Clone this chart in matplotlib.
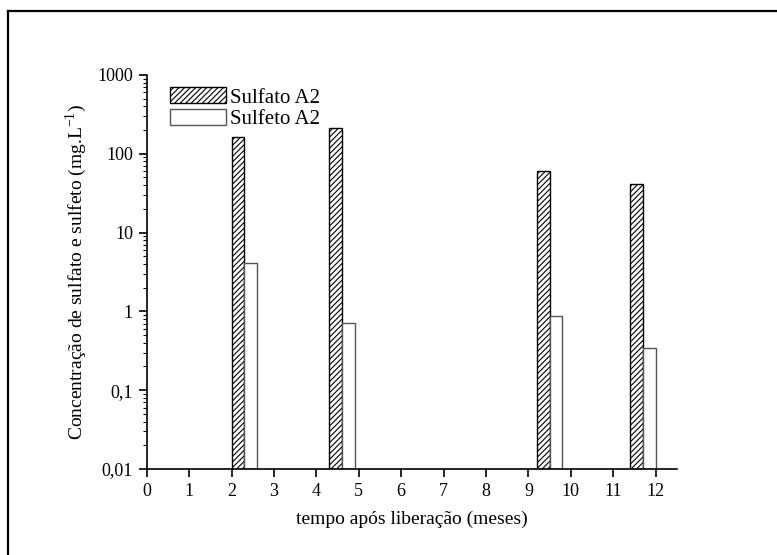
import matplotlib.pyplot as plt
from matplotlib.lines import Line2D
from matplotlib.ticker import FixedLocator, LogLocator, NullFormatter

# dados
tempo = [2.0, 4.3, 9.2, 11.4]              # meses
sulfato = [162, 212, 61, 41]               # mg/L
sulfeto = [4.1, 0.7, 0.86, 0.33]           # mg/L
yticks = [0.01, 0.1, 1, 10, 100, 1000]
ylabels = ["0,01", "0,1", "1", "10", "100", "1000"]

plt.rcParams['font.family'] = ['Liberation Serif', 'DejaVu Serif']
plt.rcParams['hatch.linewidth'] = 0.8
plt.rcParams['mathtext.fontset'] = 'custom'
plt.rcParams['mathtext.rm'] = 'Liberation Serif'

fig = plt.figure(figsize=(7.77, 5.55), dpi=100)
ax = fig.add_axes([0.189, 0.155, 0.682, 0.71])

larg = 0.3
ax.bar(tempo, sulfato, width=larg, align='edge', bottom=0.01, color='white',
       edgecolor='black', hatch='//////', linewidth=1.0, label='Sulfato A2')
ax.bar([t + larg for t in tempo], sulfeto, width=larg, align='edge', bottom=0.01,
       color='white', edgecolor='#555555', linewidth=1.0, label='Sulfeto A2')

ax.set_yscale('log')
ax.set_ylim(0.01, 1000)
ax.set_xlim(0, 12.5)
ax.yaxis.set_major_locator(FixedLocator(yticks))
ax.set_yticklabels(ylabels)
ax.yaxis.set_minor_locator(LogLocator(base=10, subs=range(2, 10)))
ax.yaxis.set_minor_formatter(NullFormatter())
ax.set_xticks(range(0, 13))

ax.spines['top'].set_visible(False)
ax.spines['right'].set_visible(False)
ax.spines['left'].set_linewidth(1.2)
ax.spines['bottom'].set_linewidth(1.2)
ax.tick_params(axis='both', which='major', direction='out', length=6, width=1.2,
               labelsize=13, pad=4)
ax.tick_params(axis='y', which='minor', direction='out', length=3, width=0.8)

ax.set_xlabel('tempo após liberação (meses)', fontsize=14, labelpad=8)
ax.set_ylabel(r'Concentração de sulfato e sulfeto (mg.L$^{\mathregular{-1}}$)', fontsize=14, labelpad=6)

ax.legend(loc='upper left', bbox_to_anchor=(0.02, 1.0), frameon=False, fontsize=15,
          handlelength=2.7, handleheight=0.8, handletextpad=0.2, labelspacing=0.05,
          borderaxespad=0.2)

# moldura parcial da figura (cortada à direita e embaixo)
fig.add_artist(Line2D([8 / 777, 1.0], [1 - 11 / 555, 1 - 11 / 555],
                      transform=fig.transFigure, color='black', linewidth=1.6))
fig.add_artist(Line2D([8 / 777, 8 / 777], [0.0, 1 - 11 / 555],
                      transform=fig.transFigure, color='black', linewidth=1.6))

fig.savefig('out.png', dpi=100)
